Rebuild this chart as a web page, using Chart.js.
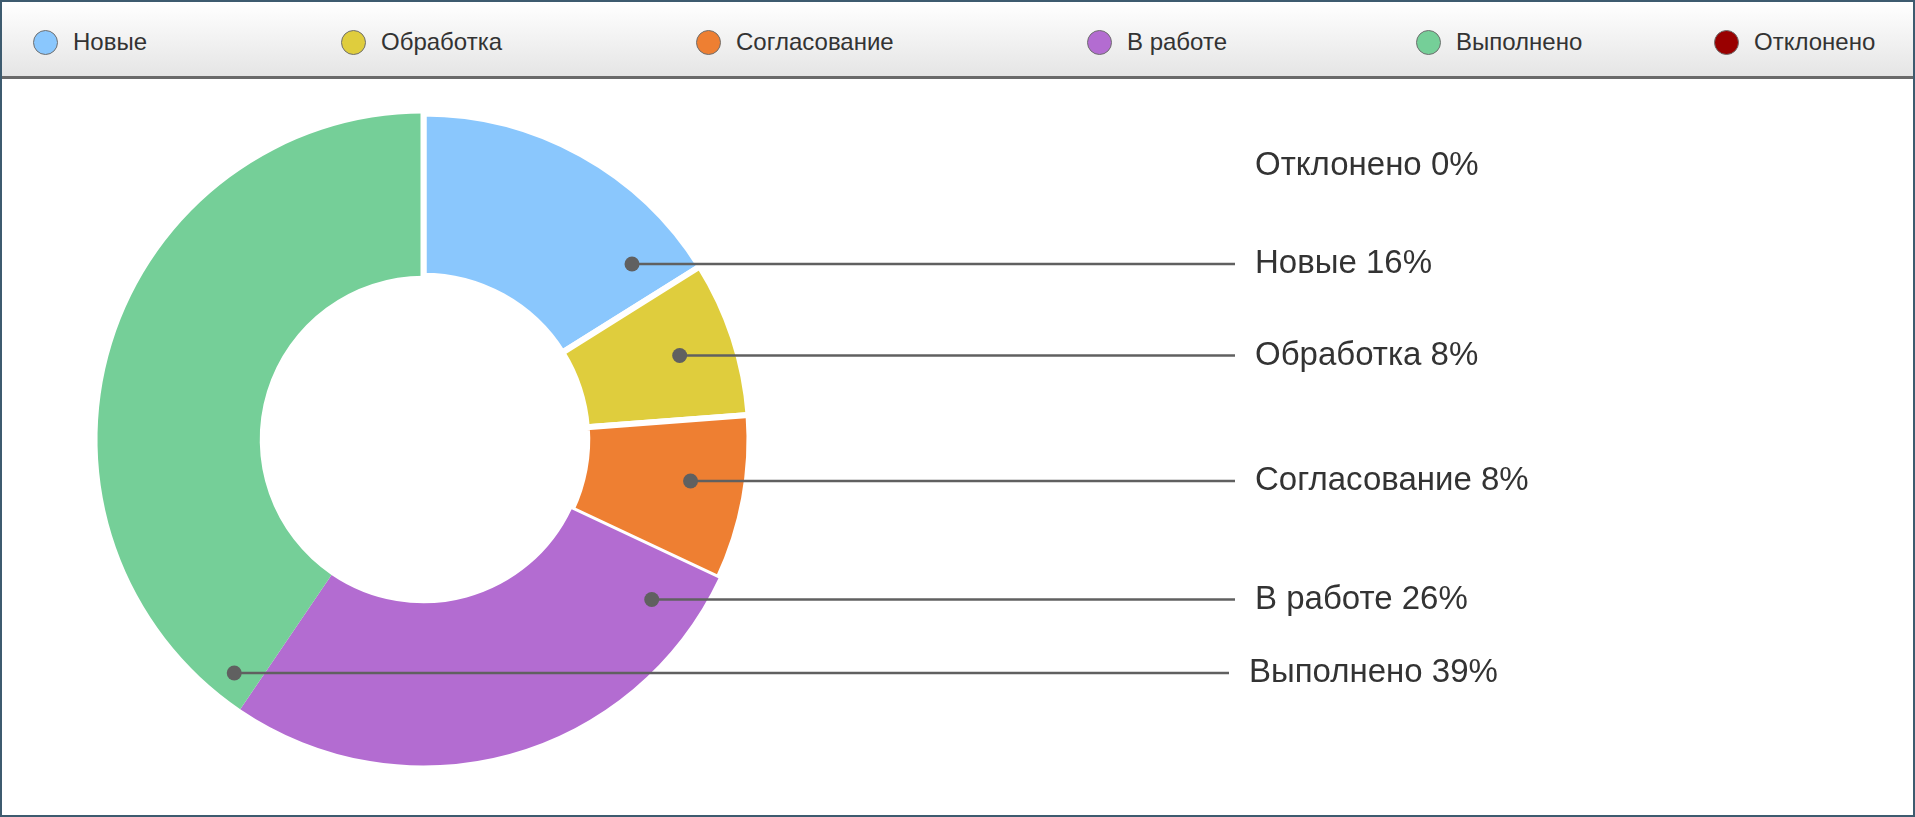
<!DOCTYPE html>
<html>
<head>
<meta charset="utf-8">
<script src="https://cdn.jsdelivr.net/npm/chart.js@4.4.1/dist/chart.umd.min.js"></script>
<style>
  html, body { margin: 0; padding: 0; background: #fff; }
  #frame {
    position: absolute; left: 0; top: 0; width: 1915px; height: 817px;
    box-sizing: border-box; border: 2px solid #3d5b6f; overflow: hidden;
    font-family: "Liberation Sans", Arial, sans-serif;
  }
  #legend {
    position: absolute; left: 0; top: 0; right: 0; height: 74px;
    background: linear-gradient(#ffffff, #e5e5e5);
    border-bottom: 3px solid #6a6a6a;
  }
  .item { position: absolute; top: 26px; display: flex; align-items: center; font-size: 24px; color: #333; white-space: nowrap; }
  .swatch { width: 25px; height: 25px; border-radius: 50%; border: 1px solid #6f6f6f; box-sizing: border-box; margin-right: 15px; }
  #chartBox { position: absolute; left: 0; top: 77px; width: 1911px; height: 736px; }
</style>
</head>
<body>
<div id="frame">
  <div id="legend"></div>
  <div id="chartBox"><canvas id="statusChart"></canvas></div>
</div>
<script>
// categories and values
const statuses = ["Новые", "Обработка", "Согласование", "В работе", "Выполнено", "Отклонено"];
const shares = [16.1, 7.7, 8.2, 27.5, 40.5, 0];     // slice sizes (angles measured)
const shownPct = [16, 8, 8, 26, 39, 0];             // percentages printed in the labels
const colors = ["#8ac7fd", "#dfcd3d", "#ee7f32", "#b36cd1", "#75cf98", "#990000"];

// layout only
const legendX = [31, 339, 694, 1085, 1414, 1712];    // left edge of each legend swatch (frame px)
const labelY = [264, 355.5, 481, 599.5, 673, 165.5]; // callout row y (page px)
const labelShift = [0, 0, 0, 0, -6, 0];              // small x nudge of a callout row
const anchorR = [0.836, 0.827, 0.829, 0.855, 0.922, 0]; // dot distance, fraction of outer radius
const CANVAS_TOP = 79;
const CANVAS_LEFT = 2;
const LINE_END_X = 1235;
const TEXT_X = 1255;

const legend = document.getElementById("legend");
legend.innerHTML = statuses.map((s, i) => `
  <div class="item" style="left:${legendX[i]}px">
    <div class="swatch" style="background:${colors[i]}"></div>${s}
  </div>`).join("");

const calloutPlugin = {
  id: "callouts",
  afterDatasetsDraw(chart) {
    const ctx = chart.ctx;
    const arcs = chart.getDatasetMeta(0).data;
    ctx.save();
    ctx.font = '33px "Liberation Sans", Arial, sans-serif';
    ctx.textBaseline = "middle";
    arcs.forEach((arc, i) => {
      const { x, y, outerRadius, innerRadius, startAngle, endAngle } =
        arc.getProps(["x", "y", "outerRadius", "innerRadius", "startAngle", "endAngle"], true);
      const ly = labelY[i] - CANVAS_TOP;
      if (shares[i] > 0) {
        const mid = (startAngle + endAngle) / 2;
        const r = anchorR[i] * outerRadius;
        const dy = ly - y;
        const dx = Math.sqrt(Math.max(r * r - dy * dy, 0)) * (Math.cos(mid) >= 0 ? 1 : -1);
        const px = x + dx;
        ctx.strokeStyle = "#606060";
        ctx.lineWidth = 2.5;
        ctx.beginPath();
        ctx.moveTo(px, ly);
        ctx.lineTo(LINE_END_X - CANVAS_LEFT + labelShift[i], ly);
        ctx.stroke();
        ctx.fillStyle = "#606060";
        ctx.beginPath();
        ctx.arc(px, ly, 7.5, 0, Math.PI * 2);
        ctx.fill();
      } else {
        // empty slice: keep its white separator
        ctx.strokeStyle = "#fff";
        ctx.lineWidth = 6;
        ctx.beginPath();
        ctx.moveTo(x + Math.cos(startAngle) * (innerRadius - 2), y + Math.sin(startAngle) * (innerRadius - 2));
        ctx.lineTo(x + Math.cos(startAngle) * (outerRadius + 2), y + Math.sin(startAngle) * (outerRadius + 2));
        ctx.stroke();
      }
      ctx.fillStyle = "#333";
      ctx.fillText(`${statuses[i]} ${shownPct[i]}%`, TEXT_X - CANVAS_LEFT + labelShift[i], ly);
    });
    ctx.restore();
  }
};

new Chart(document.getElementById("statusChart"), {
  type: "doughnut",
  data: {
    labels: statuses,
    datasets: [{
      data: shares,
      backgroundColor: colors,
      borderColor: "#fff",
      borderWidth: [6, 6, 6, 0, 0, 0]
    }]
  },
  options: {
    responsive: true, maintainAspectRatio: false, animation: false,
    radius: 326, cutout: 162,
    layout: { padding: { left: 96, top: 35, right: 1164, bottom: 50 } },
    plugins: { legend: { display: false }, tooltip: { enabled: false } }
  },
  plugins: [calloutPlugin]
});
</script>
</body>
</html>
